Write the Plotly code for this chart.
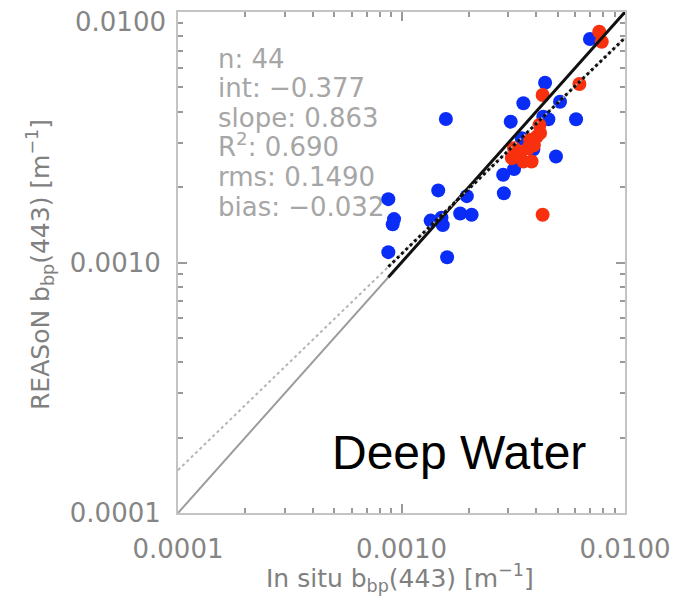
import numpy as np
import plotly.graph_objects as go

# ---------------- data ----------------
blue_x = [0.00697, 0.00439, 0.00351, 0.00512, 0.00158, 0.00431, 0.00454, 0.00604,
          0.00308, 0.00345, 0.00389, 0.00491, 0.00319, 0.00285, 0.00287, 0.00146,
          0.00196, 0.000873, 0.000926, 0.000913, 0.00135, 0.00151, 0.00153, 0.00183,
          0.00206, 0.000873, 0.00160]
blue_y = [0.00780, 0.00522, 0.00432, 0.00438, 0.00374, 0.00382, 0.00373, 0.00373,
          0.00365, 0.00313, 0.00283, 0.00265, 0.00236, 0.00224, 0.00189, 0.00194,
          0.00184, 0.00179, 0.00149, 0.00142, 0.00147, 0.00151, 0.00141, 0.00157,
          0.00155, 0.00110, 0.00105]

red_x = [0.00767, 0.00787, 0.00625, 0.00428, 0.00414, 0.00403, 0.00376, 0.00369,
         0.00319, 0.00328, 0.00351, 0.00382, 0.00428, 0.00417, 0.00339, 0.00391,
         0.00312]
red_y = [0.00834, 0.00761, 0.00516, 0.00466, 0.00354, 0.00318, 0.00308, 0.00286,
         0.00286, 0.00265, 0.00253, 0.00253, 0.00155, 0.00329, 0.00276, 0.00294,
         0.00261]

n_points = 44
intercept = -0.377
slope = 0.863
r_squared = 0.690
rms = 0.1490
bias = -0.032

axis_range = [1e-4, 1e-2]
tick_vals = [1e-4, 1e-3, 1e-2]
tick_text = ["0.0001", "0.0010", "0.0100"]
minor_vals = [k * 10.0 ** e for e in (-4, -3) for k in range(2, 10)]

# ---------------- figure ----------------
# page body has an 8px default margin, so the figure is offset by (8, 8)
OFF = 8
W, H = 689 - OFF, 601 - OFF
L, R, T, B = 178 - OFF, 64, 12 - OFF, 88
pw, ph = W - L - R, H - T - B
PL, PT = L + OFF, T + OFF          # plot-area corner in page pixels

def px_to_x(px):
    return 10 ** (-4 + 2 * (px - PL) / pw)

def py_to_y(py):
    return 10 ** (-2 - 2 * (py - PT) / ph)

def paper_x(px):
    return (px - PL) / pw

def paper_y(py):
    return (PT + ph - py) / ph

all_x = blue_x + red_x
data_lo = min(all_x)

fig = go.Figure()

# statistics text (drawn first so points cover it)
stats = [f"n: {n_points}",
         f"int: \u2212{abs(intercept):.3f}",
         f"slope: {slope:.3f}",
         f"R<sup>2</sup>: {r_squared:.3f}",
         f"rms: {rms:.4f}",
         f"bias: \u2212{abs(bias):.3f}"]
stat_font = dict(family="DejaVu Sans", size=26, color="#a6a6a6")
for i, s in enumerate(stats):
    fig.add_trace(go.Scatter(x=[px_to_x(218)], y=[py_to_y(61 + 29.6 * i)], mode="text",
                             text=[s], textposition="middle right", textfont=stat_font,
                             showlegend=False, hoverinfo="skip"))

# markers
fig.add_trace(go.Scatter(x=blue_x, y=blue_y, mode="markers",
                         marker=dict(color="#0a2cf7", size=14, line=dict(width=0)),
                         showlegend=False))
fig.add_trace(go.Scatter(x=red_x, y=red_y, mode="markers",
                         marker=dict(color="#f8300e", size=14, line=dict(width=0)),
                         showlegend=False))

# 1:1 line (gray full range, black over data range)
fig.add_trace(go.Scatter(x=axis_range, y=axis_range, mode="lines",
                         line=dict(color="#9c9c9c", width=2), showlegend=False))
fig.add_trace(go.Scatter(x=[data_lo, axis_range[1]], y=[data_lo, axis_range[1]], mode="lines",
                         line=dict(color="#111111", width=3), showlegend=False))

# regression line
def reg(x):
    return [10 ** (intercept + slope * np.log10(v)) for v in x]

fig.add_trace(go.Scatter(x=axis_range, y=reg(axis_range), mode="lines",
                         line=dict(color="#b4b4b4", width=2, dash="dot"), showlegend=False))
fig.add_trace(go.Scatter(x=[data_lo, axis_range[1]], y=reg([data_lo, axis_range[1]]), mode="lines",
                         line=dict(color="#111111", width=3, dash="dot"), showlegend=False))

tick_font = dict(family="DejaVu Sans", size=26, color="#858585")
axis_common = dict(
    type="log", range=[-4, -2], automargin=False,
    tickvals=tick_vals,
    ticks="inside", ticklen=9, tickwidth=1.5, tickcolor="#9a9a9a",
    showline=True, linecolor="#c4c4c4", linewidth=2, mirror="ticks",
    showgrid=False, zeroline=False,
    tickfont=tick_font,
    minor=dict(tickvals=minor_vals, ticks="inside", ticklen=5, tickwidth=1.5,
               tickcolor="#9a9a9a", showgrid=False),
)

# y axis: top label drawn as annotation (kept inside the page like the reference)
y_text = tick_text[:2] + [""]

fig.update_layout(
    width=W, height=H,
    margin=dict(l=L, r=R, t=T, b=B, pad=0),
    paper_bgcolor="white", plot_bgcolor="white",
    xaxis=dict(axis_common, ticktext=tick_text, ticklabelstandoff=12),
    yaxis=dict(axis_common, ticktext=y_text, ticklabelstandoff=10),
    showlegend=False,
)

fig.add_annotation(text=tick_text[2], xref="paper", yref="paper",
                   x=paper_x(168), y=paper_y(22), showarrow=False, font=tick_font,
                   xanchor="right", yanchor="middle")

title_font = dict(family="DejaVu Sans", size=25, color="#808080")
fig.add_annotation(text="In situ b<sub>bp</sub>(443) [m<sup>\u22121</sup>]",
                   xref="paper", yref="paper", x=paper_x(400), y=paper_y(578),
                   showarrow=False, font=title_font, xanchor="center", yanchor="middle")
fig.add_annotation(text="REASoN b<sub>bp</sub>(443) [m<sup>\u22121</sup>]",
                   xref="paper", yref="paper", x=paper_x(40), y=paper_y(265),
                   showarrow=False, font=title_font, textangle=-90,
                   xanchor="center", yanchor="middle")
fig.add_annotation(text="Deep Water", xref="paper", yref="paper",
                   x=paper_x(459), y=paper_y(452), showarrow=False,
                   font=dict(family="Liberation Sans", size=48, color="black"),
                   xanchor="center", yanchor="middle")

fig.write_html("out.html")
